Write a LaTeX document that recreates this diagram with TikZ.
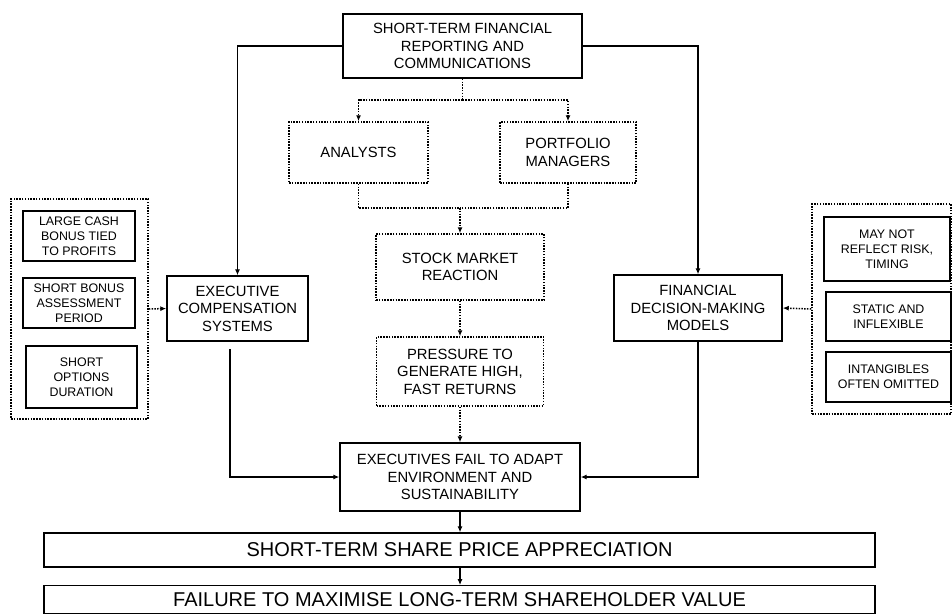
\documentclass[tikz,border=0pt]{standalone}
\usepackage{fontspec}
\setmainfont{Liberation Sans}
\usetikzlibrary{arrows.meta}
\usetikzlibrary{positioning}

\tikzset{
  mainbox/.style={draw, line width=1.4pt, align=center, inner sep=0pt,
    font=\fontsize{14.8}{17.5}\selectfont},
  dotbox/.style={mainbox, dash pattern=on 1.5pt off 1.3pt, line width=1.5pt},
  smallbox/.style={draw, line width=1.4pt, align=center, inner sep=0pt,
    font=\fontsize{12.4}{15}\selectfont},
  groupbox/.style={draw, dash pattern=on 1.5pt off 1.3pt, line width=1.5pt, inner sep=0pt},
  widebox/.style={draw, line width=1.4pt, align=center, inner sep=0pt,
    minimum width=831pt, font=\fontsize{20}{24}\selectfont},
  flow/.style={-{Latex[length=6pt,width=5pt]}, line width=1.1pt},
  dotline/.style={dash pattern=on 1.5pt off 1.3pt, line width=1.5pt},
  dotflow/.style={dotline, -{Latex[length=6pt,width=5pt]}},
}

\begin{document}
\begin{tikzpicture}[x=1pt, y=-1pt]
    \useasboundingbox (0,0) rectangle (952,614);

    % top of the chain
    \node[mainbox, minimum width=239pt, minimum height=64pt] (report) at (462.5,46)
        {SHORT-TERM FINANCIAL\\REPORTING AND\\COMMUNICATIONS};
    \node[dotbox, minimum width=139pt, minimum height=61pt] (analysts) at (358.5,152.5)
        {ANALYSTS};
    \node[dotbox, minimum width=136pt, minimum height=61pt] (portfolio) at (568,152.5)
        {PORTFOLIO\\MANAGERS};
    \node[dotbox, minimum width=168pt, minimum height=66pt] (stock) at (460,267)
        {STOCK MARKET\\REACTION};
    \node[dotbox, minimum width=167pt, minimum height=69pt] (pressure) at (460,371.5)
        {PRESSURE TO\\GENERATE HIGH,\\FAST RETURNS};
    \node[mainbox, minimum width=240pt, minimum height=68pt] (fail) at (460,477)
        {EXECUTIVES FAIL TO ADAPT\\ENVIRONMENT AND\\SUSTAINABILITY};

    % side chains
    \node[mainbox, minimum width=141pt, minimum height=65pt] (comp) at (237.5,308.5)
        {EXECUTIVE\\COMPENSATION\\SYSTEMS};
    \node[mainbox, minimum width=168pt, minimum height=66pt] (models) at (698,308)
        {FINANCIAL\\DECISION-MAKING\\MODELS};

    \node[groupbox, minimum width=137pt, minimum height=220pt] (lgroup) at (79.5,309) {};
    \node[smallbox, minimum width=112pt, minimum height=50pt] (cash) at (79,236)
        {LARGE CASH\\BONUS TIED\\TO PROFITS};
    \node[smallbox, minimum width=112pt, minimum height=50pt] (period) at (79,303)
        {SHORT BONUS\\ASSESSMENT\\PERIOD};
    \node[smallbox, minimum width=111pt, minimum height=62pt] (options) at (81.5,377)
        {SHORT\\OPTIONS\\DURATION};

    \node[groupbox, minimum width=139pt, minimum height=210pt] (rgroup) at (881.5,309) {};
    \node[smallbox, minimum width=126pt, minimum height=64pt] (risk) at (887,249)
        {MAY NOT\\REFLECT RISK,\\TIMING};
    \node[smallbox, minimum width=125pt, minimum height=49pt] (static) at (888.5,316.5)
        {STATIC AND\\INFLEXIBLE};
    \node[smallbox, minimum width=125pt, minimum height=50pt] (intang) at (888.5,377)
        {INTANGIBLES\\OFTEN OMITTED};

    % outcome
    \node[widebox, minimum height=34pt] (share) at (459.5,550)
        {SHORT-TERM SHARE PRICE APPRECIATION};
    \node[widebox, minimum height=27.5pt] (failure) at (459.5,599.5)
        {FAILURE TO MAXIMISE LONG-TERM SHAREHOLDER VALUE};

    \coordinate (fork) at (462.5,100);
    \coordinate (join) at (460,208);
    \coordinate (compout) at (230,349);

    \draw[flow] (report.west) -| (comp.north);
    \draw[flow] (report.east) -| (models.north);

    \draw[dotline] (report.south) -- (fork);
    \draw[dotflow] (fork) -| (analysts.north);
    \draw[dotflow] (fork) -| (portfolio.north);
    \draw[dotline] (analysts.south) |- (join);
    \draw[dotline] (portfolio.south) |- (join);
    \draw[dotflow] (join) -- (stock.north);
    \draw[dotflow] (stock.south) -- (pressure.north);
    \draw[dotflow] (pressure.south) -- (fail.north);

    \draw[dotflow] (lgroup.east) -- (comp.west);
    \draw[dotflow] (rgroup.west) -- (models.east);

    \draw[flow] (compout) |- (fail.west);
    \draw[flow] (models.south) |- (fail.east);

    \draw[flow] (fail.south) -- (fail.south |- share.north);
    \draw[flow] (fail.south |- share.south) -- (fail.south |- failure.north);
\end{tikzpicture}
\end{document}
